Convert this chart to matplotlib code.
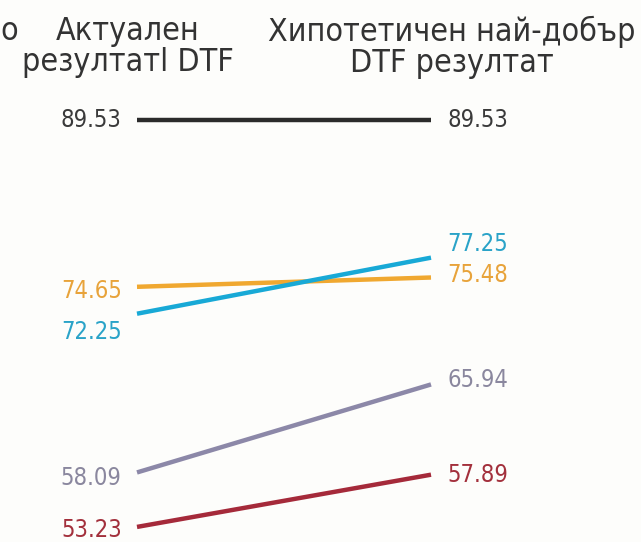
import matplotlib.pyplot as plt

# slope chart data
actual = [89.53, 74.65, 72.25, 58.09, 53.23]
best = [89.53, 75.48, 77.25, 65.94, 57.89]
colors = ['#2b2b2b', '#f0a830', '#18a9d6', '#8c88a8', '#a52a3a']
label_colors = ['#3a3a3a', '#e8a33a', '#2aa3c8', '#8a879e', '#a3303c']
# label nudges (points) to keep numbers apart
left_dy = [0, -3, -13, -4, -2]
right_dy = [0, 2, 10, 3, 0]

header_left = 'Актуален\nрезултатl DTF'
header_right = 'Хипотетичен най-добър\nDTF резултат'

plt.rcParams['font.family'] = ['DejaVu Sans']
plt.rcParams['font.stretch'] = 'condensed'

fig = plt.figure(figsize=(6.41, 5.42), dpi=100)
fig.patch.set_facecolor('#fdfdfb')
ax = fig.add_axes([0, 0, 1, 1])
ax.set_facecolor('#fdfdfb')

# pixel mapping: x=0 -> 137px, x=1 -> 431px ; y 89.53 -> 120px, 11.21 px/unit
px = 294.0
x0 = -137 / px
ax.set_xlim(x0, x0 + 641 / px)
k = 11.21
ax.set_ylim(89.53 - 422 / k, 89.53 + 120 / k)
ax.axis('off')

for a, b, c, lc, dl, dr in zip(actual, best, colors, label_colors, left_dy, right_dy):
    ax.plot([0, 1], [a, b], color=c, lw=3.2, solid_capstyle='butt')
    ax.annotate(f'{a:.2f}', (0, a), xytext=(-11, dl), textcoords='offset points',
                ha='right', va='center', fontsize=17, color=lc)
    ax.annotate(f'{b:.2f}', (1, b), xytext=(12, dr), textcoords='offset points',
                ha='left', va='center', fontsize=17, color=lc)

fig.text(128 / 641, 1 - 47 / 542, header_left, ha='center', va='center',
         fontsize=23, color='#333333', linespacing=1.0)
fig.text(452 / 641, 1 - 47 / 542, header_right, ha='center', va='center',
         fontsize=23, color='#333333', linespacing=1.0)
fig.text(0, 1 - 31 / 542, 'о', ha='left', va='center', fontsize=23, color='#333333')

fig.savefig('out.png', dpi=100, facecolor=fig.get_facecolor())
